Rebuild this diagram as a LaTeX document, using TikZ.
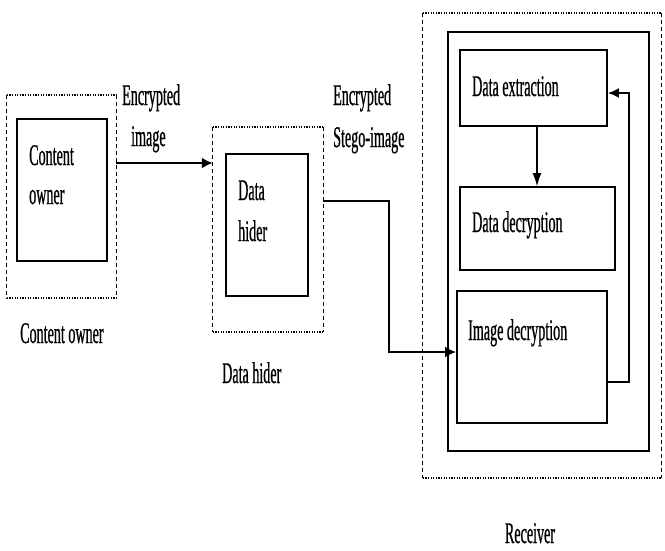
\documentclass[tikz,border=0pt]{standalone}
\usepackage{fontspec}
\setmainfont[FakeStretch=0.47,FakeBold=0.6]{Liberation Serif}
\usetikzlibrary{arrows.meta,calc}
\newcommand\mydotbox[1]{%
  \draw[hdots] (#1.north west) -- (#1.north east);
  \draw[hdots] (#1.south west) -- (#1.south east);
  \draw[vdash] (#1.north west) -- (#1.south west);
  \draw[vdash] (#1.north east) -- (#1.south east);
}
\begin{document}
\begin{tikzpicture}[x=1pt,y=-1pt,
  box/.style={draw=black, line width=1.8pt, rectangle, inner sep=0pt},
  region/.style={rectangle, inner sep=0pt},
  hdots/.style={line width=1.6pt, dash pattern=on 1.2pt off 1.4pt},
  vdash/.style={line width=1.1pt, dash pattern=on 4pt off 3pt},
  txt/.style={anchor=base west, inner sep=0pt, font=\fontsize{30}{34}\selectfont},
  ctxt/.style={anchor=base, inner sep=0pt, font=\fontsize{30}{34}\selectfont},
  thickarrow/.style={line width=2.8pt, -{Latex[length=11pt,width=11pt]}},
  thinarrow/.style={line width=1.1pt, -{Latex[length=13pt,width=9pt]}},
  fbarrow/.style={line width=1.8pt, -{Latex[length=11pt,width=10pt]}}]
\useasboundingbox (0,0) rectangle (665,550);

% Content owner
\node[region, minimum width=109pt, minimum height=203pt] (coO) at (61.5,196.5) {};
\mydotbox{coO}
\node[box, minimum width=90pt, minimum height=142pt] (coI) at (62,190) {};
\node[txt] (t1) at (29,165) {Content};
\node[txt] (t2) at (29,204) {owner};
\node[txt] (t3) at (20,343) {Content owner};

% Data hider
\node[region, minimum width=110pt, minimum height=205pt] (dhO) at (268,229.5) {};
\mydotbox{dhO}
\node[box, minimum width=82pt, minimum height=142pt] (dhI) at (267,225) {};
\node[txt] (t4) at (238,200) {Data};
\node[txt] (t5) at (238,241) {hider};
\node[txt] (t6) at (222,383) {Data hider};

% Receiver
\node[region, minimum width=238pt, minimum height=465pt] (rxO) at (542,245.5) {};
\mydotbox{rxO}
\node[box, minimum width=201pt, minimum height=419pt] (rxI) at (548.5,241.5) {};
\node[box, fill=white, minimum width=147pt, minimum height=76pt] (de) at (533.5,88) {};
\node[box, fill=white, minimum width=155pt, minimum height=83pt] (dd) at (537.5,228.5) {};
\node[box, fill=white, minimum width=150pt, minimum height=132pt] (id) at (532,357) {};
\node[txt] (t7) at (472,96) {Data extraction};
\node[txt] (t8) at (472,232) {Data decryption};
\node[txt] (t9) at (468,340) {Image decryption};
\node[ctxt] (t10) at (530,543) {Receiver};

% Labels on connectors
\node[txt] (l1) at (122,105) {Encrypted};
\node[txt] (l2) at (131,146) {image};
\node[txt] (l3) at (333,105) {Encrypted};
\node[txt] (l4) at (333,147) {Stego-image};

% Connectors
\coordinate (y1) at (0,163);
\coordinate (bend) at (389,201);
\coordinate (y2) at (0,352);
\coordinate (x3) at (537,0);
\coordinate (fb) at (629,382);
\coordinate (y5) at (0,93);

\draw[thickarrow] (coO.east |- y1) -- (dhO.west |- y1);
\draw[thickarrow] (dhO.east |- bend) -- (bend) |- (id.west |- y2);
\draw[thinarrow] (de.south -| x3) -- (dd.north -| x3);
\draw[fbarrow] (id.east |- fb) -- (fb) |- (de.east |- y5);
\end{tikzpicture}
\end{document}
